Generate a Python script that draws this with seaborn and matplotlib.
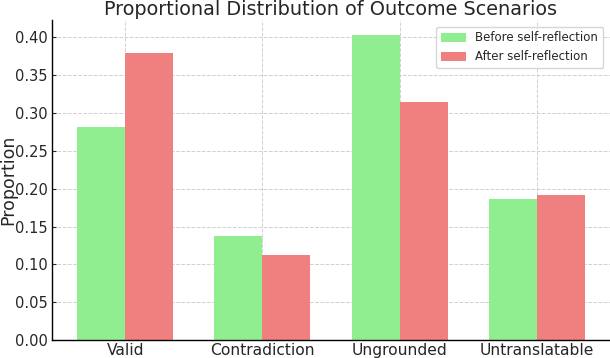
import matplotlib.pyplot as plt
import seaborn as sns
import pandas as pd

categories = ["Valid", "Contradiction", "Ungrounded", "Untranslatable"]
before_vals = [0.281, 0.137, 0.403, 0.186]
after_vals = [0.380, 0.113, 0.314, 0.191]
series_names = ["Before self-reflection", "After self-reflection"]
colors = ["#90EE90", "#F08080"]

df = pd.DataFrame({
    "Scenario": categories * 2,
    "Proportion": before_vals + after_vals,
    "Stage": [series_names[0]] * 4 + [series_names[1]] * 4,
})

sns.set_theme(style="ticks")
plt.rcParams['font.family'] = ['DejaVu Sans']

fig, ax = plt.subplots(figsize=(6.1, 3.58), dpi=100)
fig.subplots_adjust(left=52 / 610, right=1.0, bottom=18 / 358, top=1 - 19.6 / 358)

sns.barplot(data=df, x="Scenario", y="Proportion", hue="Stage",
            palette=colors, width=0.7, saturation=1, linewidth=0, ax=ax, zorder=2)

ax.set_xlim(-0.535, 3.535)
ax.set_ylim(0, 0.4235)
ax.set_yticks([0, 0.05, 0.1, 0.15, 0.2, 0.25, 0.3, 0.35, 0.4])
ax.set_yticklabels([f"{v:.2f}" for v in ax.get_yticks()])
ax.grid(True, linestyle='--', color='#d0d0d0', linewidth=0.7, zorder=0)
ax.set_axisbelow(True)
ax.tick_params(axis='both', direction='in', length=3, width=0.8, labelsize=10.5, pad=3)
ax.tick_params(axis='x', labelsize=11.2, pad=2)
for s in ['top', 'right']:
    ax.spines[s].set_visible(False)
for s in ['left', 'bottom']:
    ax.spines[s].set_color('black')
    ax.spines[s].set_linewidth(1.0)

ax.set_xlabel("")
ax.set_ylabel("Proportion", fontsize=12.5)
ax.yaxis.set_label_coords(-0.062, 0.5)
ax.set_title("Proportional Distribution of Outcome Scenarios", fontsize=13.9, pad=3.5)
ax.legend(loc="upper right", fontsize=8.5, frameon=True, edgecolor='#cccccc',
          handlelength=2.1, handleheight=0.75, borderaxespad=0.6)

fig.savefig("out.png", dpi=100)
